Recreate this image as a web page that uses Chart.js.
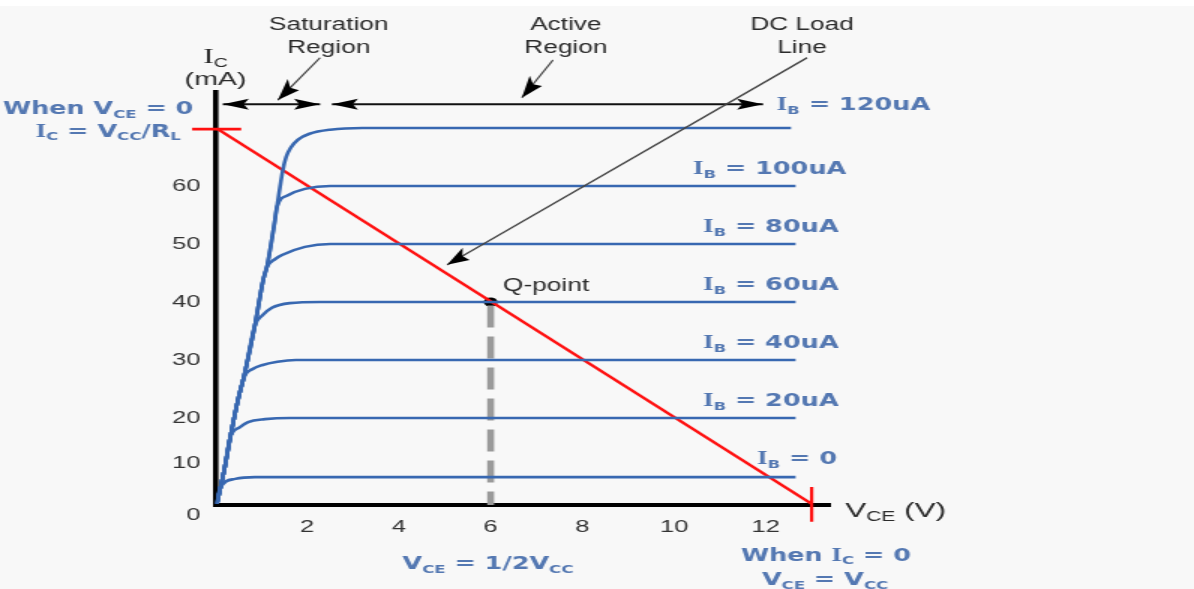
<!DOCTYPE html>
<html><head><meta charset="utf-8">
<script src="https://cdn.jsdelivr.net/npm/chart.js@4.4.1/dist/chart.umd.min.js"></script>
<style>html,body{margin:0;padding:0;background:#fff;overflow:hidden}
#c{display:block;width:1194px !important;height:589px !important}</style></head>
<body><canvas id="c" width="796" height="589"></canvas>
<script>
// ---------------- data ----------------
// x = VCE (V), y = IC (mA)
const xTickValues = [2, 4, 6, 8, 10, 12];
const xTickLabels = ['2', '4', '6', '8', '10', '12'];
const yTickValues = [3.3, 12.2, 20, 30, 40, 50, 60];
const yTickLabels = ['0', '10', '20', '30', '40', '50', '60'];

const ib0X   = [0.03, 0.10, 0.43, 0.86, 1.5, 12.65];
const ib0Y   = [5.2, 7.9, 9.5, 9.8, 9.8, 9.8];
const ib20X  = [0.03, 0.19, 0.32, 0.53, 0.71, 1.08, 1.62, 2.2, 12.65];
const ib20Y  = [5.2, 11.0, 16.6, 18.4, 19.3, 19.8, 20.0, 20.0, 20.0];
const ib40X  = [0.03, 0.19, 0.32, 0.49, 0.64, 0.80, 1.01, 1.35, 1.75, 2.4, 12.65];
const ib40Y  = [5.2, 11.0, 16.6, 23.1, 27.3, 28.4, 29.1, 29.7, 30.0, 30.0, 30.0];
const ib60X  = [0.03, 0.19, 0.32, 0.49, 0.64, 0.86, 1.01, 1.23, 1.62, 2.28, 12.65];
const ib60Y  = [5.2, 11.0, 16.6, 23.1, 27.8, 36.0, 37.6, 39.0, 39.8, 40.0, 40.0];
const ib80X  = [0.03, 0.19, 0.32, 0.49, 0.64, 0.86, 1.04, 1.12, 1.30, 1.45, 1.95, 2.5, 12.65];
const ib80Y  = [5.2, 11.0, 16.6, 23.1, 27.8, 36.0, 43.8, 46.0, 47.4, 48.1, 49.5, 50.0, 50.0];
const ib100X = [0.03, 0.19, 0.32, 0.49, 0.64, 0.86, 1.04, 1.12, 1.28, 1.34, 1.58, 1.95, 2.5, 12.65];
const ib100Y = [5.2, 11.0, 16.6, 23.1, 27.8, 36.0, 43.8, 46.0, 53.3, 56.4, 58.4, 59.5, 60.0, 60.0];
const ib120X = [0.03, 0.19, 0.32, 0.49, 0.64, 0.86, 1.04, 1.12, 1.28, 1.34, 1.47, 1.54, 1.64, 1.80, 2.05, 2.50, 3.20, 12.55];
const ib120Y = [5.2, 11.0, 16.6, 23.1, 27.8, 36.0, 43.8, 46.0, 53.3, 56.4, 62.8, 65.0, 66.6, 68.0, 69.0, 69.7, 70.0, 70.0];

const loadX = [0.05, 13.0];
const loadY = [69.8, 5.2];
const vccTickX = [-0.51, 0.56];
const vccTickY = [69.8, 69.8];
const icTickX = [13.0, 13.0];
const icTickY = [8.1, 2.1];
const qX = [6];
const qY = [40];
const qDropX = [6, 6];
const qDropY = [39.4, 5.0];

// ---------------- annotations (text + arrows), positioned in data units ----------------
const notes = [
  {x: 0.0,   y: 82.4, segs: [['I','i'],['C','s']], c: 'dark', a: 'center', sz: 19},
  {x: 0.0,   y: 78.6, segs: [['(mA)','n']], c: 'dark', a: 'center', sz: 19},
  {x: 2.47,  y: 88.0, segs: [['Saturation','n']], c: 'dark', a: 'center', sz: 17.5},
  {x: 2.47,  y: 84.0, segs: [['Region','n']], c: 'dark', a: 'center', sz: 17.5},
  {x: 7.64,  y: 88.0, segs: [['Active','n']], c: 'dark', a: 'center', sz: 17.5},
  {x: 7.64,  y: 84.0, segs: [['Region','n']], c: 'dark', a: 'center', sz: 17.5},
  {x: 12.79, y: 88.0, segs: [['DC Load','n']], c: 'dark', a: 'center', sz: 17.5},
  {x: 12.79, y: 84.0, segs: [['Line','n']], c: 'dark', a: 'center', sz: 17.5},
  {x: 6.27,  y: 42.9, segs: [['Q-point','n']], c: 'dark', a: 'left', sz: 17.5},
  {x: 13.73, y: 4.3,  segs: [['V','n'],['CE','s'],[' (V)','n']], c: 'dark', a: 'left', sz: 21},
  {x: -2.56, y: 73.4, segs: [['When V','n'],['CE','s'],[' = 0','n']], c: 'blue', a: 'center', sz: 17},
  {x: -2.34, y: 69.5, segs: [['I','i'],['C','s'],[' = V','n'],['CC','s'],['/R','n'],['L','s']], c: 'blue', a: 'center', sz: 17},
  {x: 12.24, y: 74.1, segs: [['I','i'],['B','s'],[' = 120uA','n']], c: 'blue', a: 'left', sz: 17},
  {x: 10.41, y: 63.1, segs: [['I','i'],['B','s'],[' = 100uA','n']], c: 'blue', a: 'left', sz: 17},
  {x: 10.63, y: 53.1, segs: [['I','i'],['B','s'],[' = 80uA','n']], c: 'blue', a: 'left', sz: 17},
  {x: 10.63, y: 43.1, segs: [['I','i'],['B','s'],[' = 60uA','n']], c: 'blue', a: 'left', sz: 17},
  {x: 10.63, y: 33.1, segs: [['I','i'],['B','s'],[' = 40uA','n']], c: 'blue', a: 'left', sz: 17},
  {x: 10.63, y: 23.1, segs: [['I','i'],['B','s'],[' = 20uA','n']], c: 'blue', a: 'left', sz: 17},
  {x: 11.81, y: 13.1, segs: [['I','i'],['B','s'],[' = 0','n']], c: 'blue', a: 'left', sz: 17},
  {x: 5.94,  y: -5.0, segs: [['V','n'],['CE','s'],[' = 1/2V','n'],['CC','s']], c: 'blue', a: 'center', sz: 17},
  {x: 13.31, y: -3.6, segs: [['When ','n'],['I','i'],['C','s'],[' = 0','n']], c: 'blue', a: 'center', sz: 17},
  {x: 13.29, y: -7.8, segs: [['V','n'],['CE','s'],[' = V','n'],['CC','s']], c: 'blue', a: 'center', sz: 17}
];
const arrows = [
  {x1: 0.16, y1: 74.1, x2: 2.28,  y2: 74.1, both: true,  col: '#111', w: 2, L: 26, H: 5.5},
  {x1: 2.54, y1: 74.1, x2: 11.94, y2: 74.1, both: true,  col: '#111', w: 2, L: 26, H: 5.5},
  {x1: 2.28, y1: 82.1, x2: 1.36,  y2: 74.8, both: false, col: '#444', w: 1.6, L: 22, H: 8},
  {x1: 7.36, y1: 81.7, x2: 6.68,  y2: 75.2, both: false, col: '#444', w: 1.6, L: 22, H: 8},
  {x1: 12.9, y1: 82.1, x2: 5.05,  y2: 46.4, both: false, col: '#444', w: 1.6, L: 22, H: 7}
];

// ---------------- rendering ----------------
const S = 1194 / 796; // horizontal stretch of the canvas on screen
const COLORS = {dark: '#2b2b2b', blue: '#5478b2'};
const pts = (xs, ys) => xs.map((v, i) => ({x: v, y: ys[i]}));

function drawRich(ctx, x, y, segs, o) {
  const fam = o.c === 'blue' ? '"DejaVu Sans"' : '"Liberation Sans"';
  const wt = o.c === 'blue' ? 'bold' : 'normal';
  const parts = segs.map(([t, k]) => {
    let f;
    if (k === 's') f = `${wt} ${Math.round(o.sz * 0.66)}px ${fam}`;
    else if (k === 'i') f = `${wt} ${Math.round(o.sz * 1.08)}px "Liberation Serif"`;
    else f = `${wt} ${o.sz}px ${fam}`;
    ctx.font = f;
    return {t, k, f, w: ctx.measureText(t).width};
  });
  const total = parts.reduce((a, p) => a + p.w, 0);
  let cx = o.a === 'center' ? x - total / 2 : (o.a === 'right' ? x - total : x);
  const base = y + o.sz * 0.36;
  ctx.fillStyle = COLORS[o.c];
  ctx.textAlign = 'left';
  ctx.textBaseline = 'alphabetic';
  for (const p of parts) {
    ctx.font = p.f;
    ctx.fillText(p.t, cx, p.k === 's' ? base + o.sz * 0.2 : base);
    cx += p.w;
  }
}

function head(ctx, tx, ty, fx, fy, L, H) {
  const dx = tx - fx, dy = ty - fy, d = Math.hypot(dx, dy);
  const ux = dx / d, uy = dy / d;
  const bx = tx - ux * L, by = ty - uy * L;
  ctx.beginPath();
  ctx.moveTo(tx, ty);
  ctx.lineTo(bx - uy * H, by + ux * H);
  ctx.lineTo(tx - ux * L * 0.8, ty - uy * L * 0.8);
  ctx.lineTo(bx + uy * H, by - ux * H);
  ctx.closePath();
  ctx.fill();
}

const bgPlugin = {
  id: 'bg',
  beforeDraw(chart) {
    const c = chart.ctx;
    c.save();
    c.fillStyle = '#ffffff';
    c.fillRect(0, 0, chart.width, chart.height);
    c.fillStyle = '#f8f8f8';
    c.fillRect(0, 6, chart.width, chart.height - 6);
    c.restore();
  }
};

const notesPlugin = {
  id: 'notes',
  afterDraw(chart) {
    const c = chart.ctx, xs = chart.scales.x, ys = chart.scales.y;
    c.save();
    // arrows drawn in on-screen units (undo horizontal stretch)
    c.scale(1 / S, 1);
    for (const a of arrows) {
      const x1 = xs.getPixelForValue(a.x1) * S, y1 = ys.getPixelForValue(a.y1);
      const x2 = xs.getPixelForValue(a.x2) * S, y2 = ys.getPixelForValue(a.y2);
      c.strokeStyle = a.col; c.fillStyle = '#000'; c.lineWidth = a.w;
      c.beginPath(); c.moveTo(x1, y1); c.lineTo(x2, y2); c.stroke();
      head(c, x2, y2, x1, y1, a.L, a.H);
      if (a.both) head(c, x1, y1, x2, y2, a.L, a.H);
    }
    c.restore();
    c.save();
    for (const n of notes) {
      drawRich(c, xs.getPixelForValue(n.x), ys.getPixelForValue(n.y), n.segs, n);
    }
    c.restore();
  }
};

const blue = '#3868b1';
const curve = (xs, ys) => ({data: pts(xs, ys), showLine: true, borderColor: blue, borderWidth: 2.6,
  pointRadius: 0, cubicInterpolationMode: 'monotone', fill: false});

new Chart(document.getElementById('c'), {
  type: 'scatter',
  data: {datasets: [
    curve(ib0X, ib0Y), curve(ib20X, ib20Y), curve(ib40X, ib40Y), curve(ib60X, ib60Y),
    curve(ib80X, ib80Y), curve(ib100X, ib100Y), curve(ib120X, ib120Y),
    {data: pts(qDropX, qDropY), showLine: true, borderColor: '#9a9a9a', borderWidth: 4.6, borderDash: [22, 9], pointRadius: 0},
    {data: pts(qDropX, qDropY), showLine: true, borderColor: '#e6e6e6', borderWidth: 1.6, borderDash: [18, 13], borderDashOffset: -2, pointRadius: 0},
    {data: pts(loadX, loadY), showLine: true, borderColor: '#ff1010', borderWidth: 2.4, pointRadius: 0},
    {data: pts(vccTickX, vccTickY), showLine: true, borderColor: '#ff1010', borderWidth: 2.6, pointRadius: 0, clip: false},
    {data: pts(icTickX, icTickY), showLine: true, borderColor: '#ff1010', borderWidth: 2.2, pointRadius: 0, clip: false},
    {data: pts(qX, qY), showLine: false, pointRadius: 4.6, backgroundColor: '#000', borderColor: '#000', pointBorderWidth: 0}
  ]},
  options: {
    responsive: false, animation: false, devicePixelRatio: 1,
    layout: {padding: {left: 103.67, right: 242.67, top: 92, bottom: 44}},
    plugins: {legend: {display: false}, tooltip: {enabled: false}},
    scales: {
      x: {
        type: 'linear', min: 0, max: 13.4,
        afterFit(s) { s.height = 40; },
        afterBuildTicks(s) { s.ticks = xTickValues.map(v => ({value: v})); },
        ticks: {callback: (v, i) => xTickLabels[i], color: '#333', font: {family: 'Liberation Sans', size: 17},
          padding: 12, autoSkip: false, maxRotation: 0},
        grid: {display: false, drawTicks: false},
        border: {display: true, color: '#000', width: 4}
      },
      y: {
        type: 'linear', min: 5.0, max: 76.2,
        afterFit(s) { s.width = 40; },
        afterBuildTicks(s) { s.ticks = yTickValues.map(v => ({value: v})); },
        ticks: {callback: (v, i) => yTickLabels[i], color: '#333', font: {family: 'Liberation Sans', size: 17},
          padding: 10, autoSkip: false},
        grid: {display: false, drawTicks: false},
        border: {display: true, color: '#000', width: 3.6}
      }
    }
  },
  plugins: [bgPlugin, notesPlugin]
});
</script>
</body></html>
